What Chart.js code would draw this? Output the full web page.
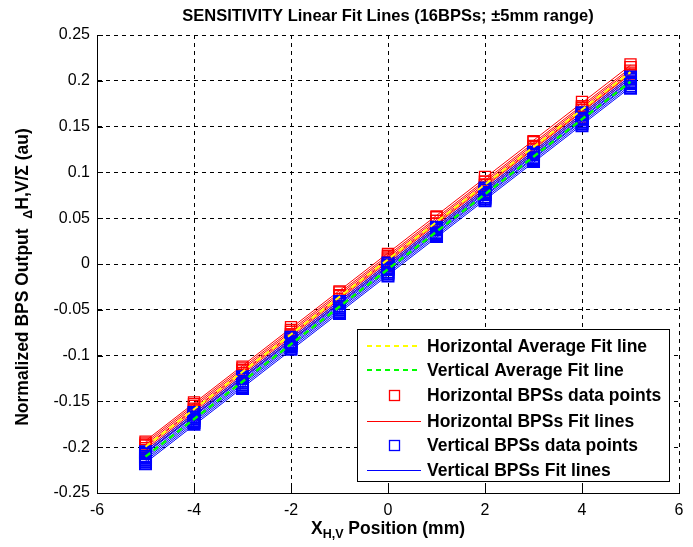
<!DOCTYPE html>
<html>
<head>
<meta charset="utf-8">
<script src="https://cdn.jsdelivr.net/npm/chart.js@4/dist/chart.umd.min.js"></script>
<style>
  html, body { margin: 0; padding: 0; background: #ffffff; }
  #wrap { width: 693px; height: 547px; }
</style>
</head>
<body>
<div id="wrap"><canvas id="c" width="693" height="547"></canvas></div>
<script>
// ---------- DATA ----------
const xPositions = [-5, -4, -3, -2, -1, 0, 1, 2, 3, 4, 5];

const hPoints1 = [-0.194, -0.151, -0.112, -0.069, -0.030, 0.011, 0.052, 0.095, 0.134, 0.177, 0.218];
const hPoints2 = [-0.196, -0.153, -0.114, -0.072, -0.031, 0.009, 0.051, 0.090, 0.133, 0.172, 0.215];
const hPoints3 = [-0.198, -0.155, -0.116, -0.074, -0.034, 0.008, 0.047, 0.090, 0.129, 0.172, 0.211];
const hPoints4 = [-0.198, -0.159, -0.116, -0.077, -0.035, 0.006, 0.047, 0.086, 0.128, 0.170, 0.209];
const hPoints5 = [-0.201, -0.158, -0.119, -0.077, -0.038, 0.004, 0.044, 0.087, 0.125, 0.168, 0.207];
const hPoints6 = [-0.203, -0.160, -0.121, -0.079, -0.040, 0.002, 0.044, 0.083, 0.126, 0.165, 0.206];
const hPoints7 = [-0.205, -0.162, -0.123, -0.081, -0.042, 0.001, 0.040, 0.083, 0.122, 0.165, 0.204];
const hPoints8 = [-0.207, -0.164, -0.125, -0.082, -0.043, -0.002, 0.040, 0.079, 0.122, 0.161, 0.202];

const vPoints1 = [-0.205, -0.162, -0.123, -0.080, -0.041, 0.001, 0.040, 0.083, 0.122, 0.165, 0.204];
const vPoints2 = [-0.207, -0.164, -0.125, -0.082, -0.043, -0.001, 0.038, 0.081, 0.120, 0.163, 0.202];
const vPoints3 = [-0.206, -0.167, -0.124, -0.086, -0.043, -0.004, 0.039, 0.078, 0.120, 0.159, 0.202];
const vPoints4 = [-0.210, -0.167, -0.128, -0.085, -0.046, -0.005, 0.037, 0.076, 0.119, 0.158, 0.199];
const vPoints5 = [-0.212, -0.169, -0.130, -0.087, -0.048, -0.006, 0.033, 0.076, 0.115, 0.158, 0.197];
const vPoints6 = [-0.214, -0.171, -0.132, -0.089, -0.050, -0.009, 0.034, 0.073, 0.116, 0.155, 0.198];
const vPoints7 = [-0.216, -0.173, -0.134, -0.091, -0.052, -0.011, 0.032, 0.071, 0.114, 0.153, 0.194];
const vPoints8 = [-0.218, -0.175, -0.136, -0.093, -0.054, -0.013, 0.030, 0.069, 0.112, 0.151, 0.192];

// fit lines: value at x = -5 and x = +5
const fitRange = [-5, 5];
const hFitStart = [-0.193, -0.195, -0.197, -0.199, -0.200, -0.202, -0.204, -0.206];
const hFitEnd   = [ 0.217,  0.214,  0.212,  0.210,  0.208,  0.207,  0.205,  0.203];
const vFitStart = [-0.204, -0.206, -0.207, -0.209, -0.211, -0.213, -0.215, -0.217];
const vFitEnd   = [ 0.205,  0.203,  0.201,  0.200,  0.198,  0.197,  0.195,  0.193];
const hAvgFit = [-0.1995, 0.2095];
const vAvgFit = [-0.2103, 0.1990];

const xTickLabels = ['-6', '-4', '-2', '0', '2', '4', '6'];
const yTickLabels = ['-0.25', '-0.2', '-0.15', '-0.1', '-0.05', '0', '0.05', '0.1', '0.15', '0.2', '0.25'];

const titleText = 'SENSITIVITY Linear Fit Lines (16BPSs; \u00B15mm range)';
const legendLabels = [
  'Horizontal Average Fit line',
  'Vertical Average Fit line',
  'Horizontal BPSs data points',
  'Horizontal BPSs Fit lines',
  'Vertical BPSs data points',
  'Vertical BPSs Fit lines'
];

// ---------- STYLE ----------
const RED = '#ff0000';
const BLUE = '#0000ff';
const YELLOW = '#ffff00';
const GREEN = '#00ff00';
const FONT = '"Liberation Sans", Arial, Helvetica, sans-serif';

const hPointSets = [hPoints1, hPoints2, hPoints3, hPoints4, hPoints5, hPoints6, hPoints7, hPoints8];
const vPointSets = [vPoints1, vPoints2, vPoints3, vPoints4, vPoints5, vPoints6, vPoints7, vPoints8];

function pointsDataset(arr, color, bw) {
  return {
    data: xPositions.map((x, i) => ({ x: x, y: arr[i] })),
    showLine: false,
    pointStyle: 'rect',
    pointRadius: 7.8,
    pointHoverRadius: 7.8,
    pointBorderWidth: bw,
    borderColor: color,
    backgroundColor: 'rgba(0,0,0,0)'
  };
}
function lineDataset(ends, color, width, dash) {
  return {
    data: fitRange.map((x, i) => ({ x: x, y: ends[i] })),
    showLine: true,
    borderColor: color,
    borderWidth: width,
    borderDash: dash || [],
    pointRadius: 0,
    pointHoverRadius: 0,
    fill: false
  };
}

// dataset index 0 is drawn on top
const datasets = [];
datasets.push(lineDataset(hAvgFit, YELLOW, 2, [6, 4]));
datasets.push(lineDataset(vAvgFit, GREEN, 2.5, [6, 4]));
vFitStart.forEach((s, i) => datasets.push(lineDataset([s, vFitEnd[i]], BLUE, 1)));
vPointSets.forEach(a => datasets.push(pointsDataset(a, BLUE, 2)));
hFitStart.forEach((s, i) => datasets.push(lineDataset([s, hFitEnd[i]], RED, 1)));
hPointSets.forEach(a => datasets.push(pointsDataset(a, RED, 1.3)));

// ---------- PLUGINS ----------
const decorations = {
  id: 'decorations',
  afterDraw(chart) {
    const ctx = chart.ctx;
    const ca = chart.chartArea;
    const xs = chart.scales.x, ys = chart.scales.y;
    ctx.save();

    // inward tick marks
    ctx.strokeStyle = '#000';
    ctx.lineWidth = 1;
    ctx.setLineDash([]);
    xs.ticks.forEach((t, i) => {
      const px = Math.round(xs.getPixelForTick(i)) + 0.5;
      ctx.beginPath(); ctx.moveTo(px, ca.bottom); ctx.lineTo(px, ca.bottom - 6); ctx.stroke();
    });
    ys.ticks.forEach((t, i) => {
      const py = Math.round(ys.getPixelForTick(i)) + 0.5;
      ctx.beginPath(); ctx.moveTo(ca.left, py); ctx.lineTo(ca.left + 6, py); ctx.stroke();
    });

    // title
    ctx.fillStyle = '#000';
    ctx.font = 'bold 16.5px ' + FONT;
    ctx.textAlign = 'center';
    ctx.textBaseline = 'middle';
    ctx.fillText(titleText, (ca.left + ca.right) / 2, 16);

    // x axis label with subscript
    const xc = (ca.left + ca.right) / 2;
    const big = 'bold 17.5px ' + FONT, small = 'bold 12.5px ' + FONT;
    ctx.textAlign = 'left';
    ctx.textBaseline = 'alphabetic';
    ctx.font = big; const wX = ctx.measureText('X').width;
    ctx.font = small; const wSub = ctx.measureText('H,V').width;
    ctx.font = big; const wRest = ctx.measureText(' Position (mm)').width;
    let sx = xc - (wX + wSub + wRest) / 2;
    const by = 534;
    ctx.font = big; ctx.fillText('X', sx, by); sx += wX;
    ctx.font = small; ctx.fillText('H,V', sx, by + 4); sx += wSub;
    ctx.font = big; ctx.fillText(' Position (mm)', sx, by);

    // y axis label (rotated) with subscripted delta
    ctx.save();
    ctx.translate(28, 277);
    ctx.rotate(-Math.PI / 2);
    const p1 = 'Normalized BPS Output  ', p2 = '\u0394', p3 = 'H,V/\u03A3 (au)';
    ctx.font = big; const w1 = ctx.measureText(p1).width;
    ctx.font = small; const w2 = ctx.measureText(p2).width;
    ctx.font = big; const w3 = ctx.measureText(p3).width;
    let ly = -(w1 + w2 + w3) / 2;
    ctx.font = big; ctx.fillText(p1, ly, 0); ly += w1;
    ctx.font = small; ctx.fillText(p2, ly, 4); ly += w2;
    ctx.font = big; ctx.fillText(p3, ly, 0);
    ctx.restore();

    // legend box
    const L = 357.5, T = 329.5, R = 669.5, B = 481.5;
    ctx.fillStyle = '#fff';
    ctx.fillRect(L, T, R - L, B - T);
    ctx.strokeStyle = '#000';
    ctx.lineWidth = 1;
    ctx.strokeRect(L, T, R - L, B - T);
    const rows = [346, 370, 395, 421, 445, 470];
    const sx0 = 367, sx1 = 421, textX = 427;
    ctx.font = 'bold 17.5px ' + FONT;
    ctx.textBaseline = 'middle';
    ctx.textAlign = 'left';
    legendLabels.forEach((lab, i) => {
      const y = rows[i];
      ctx.save();
      if (i === 0 || i === 1) {
        ctx.strokeStyle = i === 0 ? YELLOW : GREEN;
        ctx.lineWidth = 2;
        ctx.setLineDash([5, 4]);
        ctx.beginPath(); ctx.moveTo(sx0, y); ctx.lineTo(sx1, y); ctx.stroke();
      } else if (i === 2 || i === 4) {
        ctx.strokeStyle = i === 2 ? RED : BLUE;
        ctx.lineWidth = 1.3;
        ctx.strokeRect(389.5, y - 4.5, 10, 10);
      } else {
        ctx.strokeStyle = i === 3 ? RED : BLUE;
        ctx.lineWidth = 1;
        ctx.beginPath(); ctx.moveTo(sx0, y + 0.5); ctx.lineTo(sx1, y + 0.5); ctx.stroke();
      }
      ctx.restore();
      ctx.fillStyle = '#000';
      ctx.fillText(lab, textX, y + 1);
    });

    ctx.restore();
  }
};

// ---------- CHART ----------
new Chart(document.getElementById('c'), {
  type: 'scatter',
  data: { datasets: datasets },
  plugins: [decorations],
  options: {
    responsive: false,
    animation: false,
    events: [],
    layout: { padding: { left: 0, top: 35, right: 14, bottom: 0 } },
    plugins: {
      legend: { display: false },
      title: { display: false },
      tooltip: { enabled: false }
    },
    scales: {
      x: {
        type: 'linear',
        min: -6, max: 6,
        z: 1,
        afterFit(scale) { scale.height = 54; },
        ticks: {
          stepSize: 2,
          color: '#000',
          font: { family: FONT, size: 16 },
          padding: 8,
          maxRotation: 0,
          callback: (v, i) => xTickLabels[i]
        },
        grid: { color: '#000', lineWidth: 1, drawTicks: false },
        border: { display: true, color: '#000', width: 1, dash: [4, 4] }
      },
      y: {
        type: 'linear',
        min: -0.25, max: 0.25,
        z: 1,
        afterFit(scale) { scale.width = 97; },
        ticks: {
          stepSize: 0.05,
          color: '#000',
          font: { family: FONT, size: 16 },
          padding: 7,
          callback: (v, i) => yTickLabels[i]
        },
        grid: { color: '#000', lineWidth: 1, drawTicks: false },
        border: { display: true, color: '#000', width: 1, dash: [4, 4] }
      }
    }
  }
});
</script>
</body>
</html>
